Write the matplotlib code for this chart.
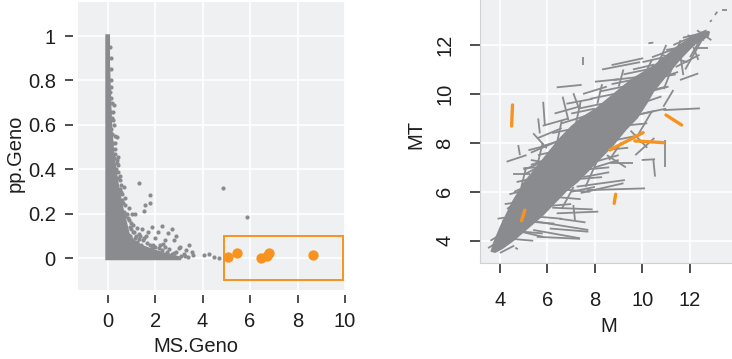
import matplotlib
matplotlib.use("Agg")
import matplotlib.pyplot as plt
from matplotlib.collections import LineCollection
from matplotlib.patches import Rectangle

plt.rcParams["font.family"] = ["Liberation Sans", "DejaVu Sans"]

GREY = "#8a8b8f"
ORANGE = "#f7931e"
PANEL = "#eff0f2"
INK = "#1e1e1e"
FS = 14.5

# ---- MS.Geno vs pp.Geno ----
# outline of the solid mass of overlapping points near MS.Geno = 0
dense_ms = [-0.1, -0.1, 0.1, 0.1, 0.13, 0.16, 0.2, 0.27, 0.36, 0.46, 0.58, 0.7,
            0.82, 0.92, 1.1, 1.45, 1.9, 2.4, 2.85, 3.1, 3.1]
dense_pp = [-0.009, 1.008, 1.008, 0.88, 0.78, 0.68, 0.58, 0.49, 0.41, 0.34, 0.27,
            0.21, 0.16, 0.115, 0.085, 0.06, 0.042, 0.026, 0.014, 0.006, -0.009]

# scattered genes outside / on the edge of the mass
scatter_ms = [0.12, 0.10, 0.15, 0.12, 0.25, 0.18, 0.14, 0.20, 0.40, 0.22, 0.30, 0.43,
              0.39, 0.28, 0.35, 0.53, 0.45, 0.68, 0.50, 0.74, 0.60, 0.88, 0.70, 1.17,
              1.03, 0.85, 1.33, 1.77, 1.77, 1.59, 1.54, 1.00, 1.24, 1.45, 1.87, 2.29,
              2.71, 2.54, 2.43, 2.78, 1.10, 1.60, 2.00, 2.20, 1.30, 3.06, 3.41, 3.55,
              2.60, 2.90, 3.20, 3.30, 4.04, 4.25, 4.46, 4.67, 4.88, 5.89, 1.90, 2.40,
              3.60, 0.95, 1.15, 2.10, 1.70, 2.90, 3.00, 1.40, 2.05, 2.55,
              0.14, 0.12, 0.11, 0.16, 0.19, 0.22, 0.26, 0.30, 0.33, 0.38, 0.44, 0.50,
              0.55, 0.62, 0.66, 0.72, 0.80, 0.90, 0.95, 1.05, 1.20, 1.30, 1.50, 1.65,
              1.80, 2.00, 2.15, 2.30, 2.50, 2.70, 2.80, 3.10, 3.25, 3.40, 0.58, 0.42,
              0.33, 0.24, 1.25, 1.55, 1.85, 1.05, 2.35, 0.75, 0.98, 1.38]
scatter_pp = [0.80, 0.75, 0.72, 0.66, 0.69, 0.63, 0.58, 0.56, 0.545, 0.52, 0.49, 0.457,
              0.43, 0.45, 0.40, 0.37, 0.36, 0.32, 0.31, 0.27, 0.26, 0.225, 0.21, 0.20,
              0.20, 0.18, 0.34, 0.285, 0.247, 0.24, 0.214, 0.16, 0.135, 0.13, 0.142, 0.147,
              0.133, 0.112, 0.082, 0.082, 0.12, 0.10, 0.09, 0.06, 0.085, 0.052, 0.06, 0.03,
              0.04, 0.03, 0.02, 0.035, 0.013, 0.018, 0.007, 0.0, 0.318, 0.187, 0.06, 0.05,
              0.015, 0.10, 0.09, 0.12, 0.12, 0.10, 0.045, 0.06, 0.02, 0.015,
              0.85, 0.90, 0.95, 0.77, 0.70, 0.62, 0.60, 0.52, 0.47, 0.44, 0.39, 0.35,
              0.33, 0.29, 0.25, 0.24, 0.20, 0.17, 0.14, 0.12, 0.10, 0.11, 0.08, 0.07,
              0.06, 0.05, 0.045, 0.035, 0.03, 0.02, 0.025, 0.012, 0.008, 0.005, 0.30, 0.42,
              0.55, 0.66, 0.075, 0.09, 0.045, 0.15, 0.065, 0.19, 0.13, 0.1]

# highlighted genes
hit_ms = [5.05, 5.45, 6.45, 6.70, 6.78, 8.65]
hit_pp = [0.005, 0.025, 0.0, 0.01, 0.025, 0.015]
box_ms = [4.9, 9.93]
box_pp = [-0.1, 0.1]

# ---- M vs MT ----
core_m = [3.6, 3.7, 4.0, 4.5, 5.0, 5.5, 6.0, 6.5, 7.0, 7.5, 8.0, 8.5, 9.0, 9.5, 10.0,
          10.5, 11.0, 11.5, 12.0, 12.5, 12.85,
          12.8, 12.2, 11.6, 11.0, 10.5, 10.2, 9.8, 9.3, 8.8, 8.3, 7.8, 7.3, 6.8, 6.3,
          5.8, 5.2, 4.6, 4.1, 3.8]
core_mt = [3.55, 3.9, 4.6, 5.6, 6.4, 7.0, 7.6, 8.2, 8.7, 9.1, 9.4, 9.8, 10.2, 10.6, 10.9,
           11.2, 11.6, 12.0, 12.3, 12.55, 12.55,
           12.35, 12.0, 11.4, 10.7, 10.1, 9.6, 9.0, 8.5, 7.9, 7.4, 6.9, 6.4, 6.0, 5.5,
           5.0, 4.5, 4.0, 3.65, 3.5]

# (M start, MT start, M end, MT end)
grey_segments = [
    # outlying probes
    (5.40, 4.44, 7.37, 4.10), (5.55, 4.16, 7.37, 4.08), (4.56, 4.44, 5.82, 4.16),
    (5.55, 4.78, 7.72, 4.44), (6.10, 4.50, 7.72, 4.37), (6.39, 5.12, 8.14, 5.19),
    (6.20, 5.35, 7.90, 5.28), (6.50, 4.90, 7.60, 4.75), (7.09, 5.46, 7.16, 4.85),
    (7.23, 6.21, 9.26, 6.48), (7.65, 6.07, 10.11, 6.14), (7.40, 5.95, 9.20, 6.35),
    (7.00, 6.00, 8.00, 6.20), (7.50, 6.60, 8.60, 6.80), (8.00, 7.00, 9.00, 7.30),
    (8.63, 7.16, 9.61, 7.16), (8.50, 7.50, 9.30, 7.00), (9.50, 8.50, 10.20, 7.80),
    (9.70, 7.50, 10.50, 8.20), (9.97, 7.30, 10.53, 7.33), (10.46, 7.30, 10.53, 6.62),
    (10.95, 8.12, 10.95, 7.03), (10.88, 9.34, 12.42, 9.41), (10.88, 9.48, 11.30, 10.16),
    (10.00, 9.20, 11.00, 9.40), (11.58, 10.57, 12.35, 10.84), (11.58, 11.66, 11.72, 10.77),
    (12.14, 11.93, 12.35, 11.39), (12.21, 11.87, 12.77, 11.87), (10.50, 11.00, 12.00, 12.10),
    (11.00, 11.20, 12.50, 12.40), (11.30, 12.00, 12.70, 12.60), (10.80, 11.60, 11.90, 11.30),
    (11.20, 11.00, 11.60, 12.20), (12.00, 11.50, 12.60, 12.50), (11.70, 12.30, 12.80, 12.55),
    (10.70, 10.50, 11.50, 11.50), (10.25, 12.07, 10.46, 12.10), (12.84, 12.95, 12.92, 13.02),
    (13.05, 13.23, 13.15, 13.36), (13.33, 13.43, 13.54, 13.43), (8.70, 11.18, 10.03, 11.46),
    (8.30, 11.00, 9.90, 11.30), (8.77, 10.57, 10.46, 10.77), (7.51, 11.52, 7.51, 11.18),
    (6.39, 10.27, 7.44, 10.37), (6.64, 9.89, 6.88, 8.93), (7.09, 10.03, 7.30, 9.48),
    (5.82, 9.68, 5.89, 8.73), (5.61, 9.00, 5.68, 8.39), (4.28, 7.23, 5.12, 7.50),
    (4.77, 7.91, 4.84, 7.50), (4.56, 6.72, 5.26, 6.72), (4.98, 6.96, 5.97, 7.03),
    (5.40, 8.39, 5.97, 7.78), (5.20, 7.70, 6.00, 7.90), (5.10, 6.30, 5.60, 6.40),
    (5.30, 7.30, 5.90, 7.20), (5.30, 7.60, 6.50, 8.10), (5.60, 8.20, 6.60, 8.60),
    (5.00, 6.90, 6.00, 7.30), (4.60, 6.00, 5.50, 6.40), (4.30, 5.30, 5.00, 5.80),
    (4.10, 4.80, 4.90, 5.10), (5.80, 8.70, 6.90, 9.00), (6.30, 9.20, 7.40, 9.50),
    (6.80, 9.60, 7.90, 9.80), (7.50, 10.00, 8.50, 10.30), (8.00, 10.50, 9.00, 10.60),
    (3.50, 3.70, 4.00, 4.00), (3.60, 4.00, 4.10, 4.30), (4.00, 3.50, 4.60, 3.80),
    (4.65, 3.72, 4.75, 3.65),
    # probes along the upper edge of the cloud
    (3.90, 4.90, 4.60, 5.00), (4.20, 5.50, 5.00, 5.60), (4.40, 5.90, 5.20, 6.10),
    (4.70, 6.40, 5.60, 6.60), (5.00, 6.70, 5.80, 7.10), (5.30, 7.10, 6.20, 7.40),
    (5.60, 7.50, 6.50, 7.70), (5.90, 7.90, 6.90, 8.20), (6.20, 8.40, 7.20, 8.60),
    (6.60, 8.80, 7.60, 9.10), (7.00, 9.20, 8.00, 9.40), (7.30, 9.40, 8.30, 9.60),
    (7.80, 9.80, 8.80, 10.00), (8.20, 10.10, 9.20, 10.30), (8.70, 10.40, 9.70, 10.60),
    (9.20, 10.80, 10.20, 11.00), (9.60, 11.00, 10.50, 11.20), (10.00, 11.30, 10.90, 11.50),
    (4.90, 6.20, 5.10, 7.00), (5.60, 7.20, 5.80, 8.00), (6.40, 8.00, 6.60, 8.90),
    (7.20, 8.80, 7.40, 9.70), (8.10, 9.60, 8.30, 10.40), (9.00, 10.30, 9.20, 11.00),
    # probes along the lower edge of the cloud
    (4.20, 4.10, 5.40, 4.00), (4.60, 4.40, 5.80, 4.30), (5.00, 4.80, 6.30, 4.70),
    (5.40, 5.00, 6.60, 4.90), (5.80, 5.40, 7.00, 5.50), (6.20, 5.80, 7.40, 5.70),
    (6.60, 6.10, 7.80, 6.00), (7.00, 6.50, 8.30, 6.60), (7.50, 6.90, 8.60, 7.00),
    (7.90, 7.20, 9.00, 7.50), (8.30, 7.70, 9.40, 7.80), (8.80, 8.10, 9.80, 8.30),
    (9.20, 8.70, 10.20, 8.80), (9.60, 9.10, 10.50, 9.30), (9.90, 9.60, 10.80, 9.90),
    (10.30, 10.10, 11.10, 10.30), (10.60, 10.60, 11.50, 10.90), (7.60, 6.20, 8.20, 7.50),
    (8.60, 7.30, 9.10, 8.00), (9.80, 8.30, 10.40, 9.30), (6.60, 5.30, 7.10, 6.20),
    # loose tangle at the high end
    (9.40, 10.20, 10.60, 10.40), (9.80, 10.00, 11.00, 10.30), (10.20, 10.60, 11.40, 10.80),
    (10.40, 11.50, 11.50, 11.90), (11.00, 11.80, 12.20, 12.00), (11.40, 11.10, 12.40, 11.60),
    (11.80, 11.00, 12.50, 12.20), (10.90, 10.20, 11.30, 11.20), (12.30, 12.60, 12.90, 12.20),
    (9.90, 10.40, 10.40, 11.40), (10.60, 11.10, 11.00, 12.00), (11.90, 12.40, 12.60, 12.20),
]
hit_segments = [
    (4.53, 9.55, 4.49, 8.69), (5.05, 5.25, 4.91, 4.82), (8.63, 7.71, 10.03, 8.42),
    (9.68, 8.08, 10.88, 8.01), (10.99, 9.14, 11.65, 8.73), (8.87, 5.90, 8.81, 5.53),
]

pp_ticks = [0, 0.2, 0.4, 0.6, 0.8, 1]
pp_labels = ["0", "0.2", "0.4", "0.6", "0.8", "1"]
ms_ticks = [0, 2, 4, 6, 8, 10]
m_ticks = [4, 6, 8, 10, 12]


def panel(ax):
    ax.set_facecolor(PANEL)
    ax.grid(True, color="white", linewidth=1.2)
    ax.set_axisbelow(True)
    ax.tick_params(width=1.1, color=INK, labelsize=FS, labelcolor=INK)


fig = plt.figure(figsize=(7.32, 3.59), dpi=100)

# left panel
ax1 = fig.add_axes([78 / 732, 69 / 359, 267 / 732, 288 / 359])
panel(ax1)
for side in ax1.spines:
    ax1.spines[side].set_visible(False)
ax1.spines["left"].set_position(("outward", 3.5))
ax1.spines["bottom"].set_position(("outward", 3.5))
ax1.tick_params(length=5.5, pad=7)

ax1.fill(dense_ms, dense_pp, color=GREY, lw=0, zorder=2)
ax1.scatter(scatter_ms, scatter_pp, s=9, color=GREY, lw=0, zorder=3)
ax1.scatter(hit_ms, hit_pp, s=55, color=ORANGE, lw=0, zorder=4)
ax1.add_patch(Rectangle((box_ms[0], box_pp[0]), box_ms[1] - box_ms[0], box_pp[1] - box_pp[0],
                        fill=False, edgecolor=ORANGE, lw=1.4, zorder=4))

ax1.set_xlim(-1.25, 10.0)
ax1.set_ylim(-0.143, 1.153)
ax1.set_xticks(ms_ticks)
ax1.set_yticks(pp_ticks, pp_labels)
ax1.set_xlabel("MS.Geno", fontsize=FS, color=INK)
ax1.set_ylabel("pp.Geno", fontsize=FS, color=INK)
ax1.xaxis.set_label_coords(0.441, -0.162)
ax1.yaxis.set_label_coords(-0.198, 0.474)

# right panel
ax2 = fig.add_axes([480 / 732, 96 / 359, 252 / 732, 263 / 359])
panel(ax2)
for side in ["top", "right"]:
    ax2.spines[side].set_visible(False)
for side in ["left", "bottom"]:
    ax2.spines[side].set_color("#cfd0d2")
    ax2.spines[side].set_linewidth(0.8)
ax2.tick_params(length=7.5)
ax2.tick_params(axis="x", pad=13)
ax2.tick_params(axis="y", pad=11, labelrotation=90)

ax2.fill(core_m, core_mt, color=GREY, lw=0, zorder=2)
ax2.add_collection(LineCollection([[(a, b), (c, d)] for a, b, c, d in grey_segments],
                                  colors=GREY, linewidths=1.3, zorder=3))
ax2.add_collection(LineCollection([[(a, b), (c, d)] for a, b, c, d in hit_segments],
                                  colors=ORANGE, linewidths=2.4, capstyle="round", zorder=4))

ax2.set_xlim(3.16, 13.77)
ax2.set_ylim(3.09, 13.84)
ax2.set_xticks(m_ticks)
ax2.set_yticks(m_ticks)
for lab in ax2.get_yticklabels():
    lab.set_va("center")
ax2.set_xlabel("M", fontsize=FS, color=INK)
ax2.set_ylabel("MT", fontsize=FS, color=INK)
ax2.xaxis.set_label_coords(0.509, -0.204)
ax2.yaxis.set_label_coords(-0.218, 0.487)

fig.savefig("out.png", dpi=100)
